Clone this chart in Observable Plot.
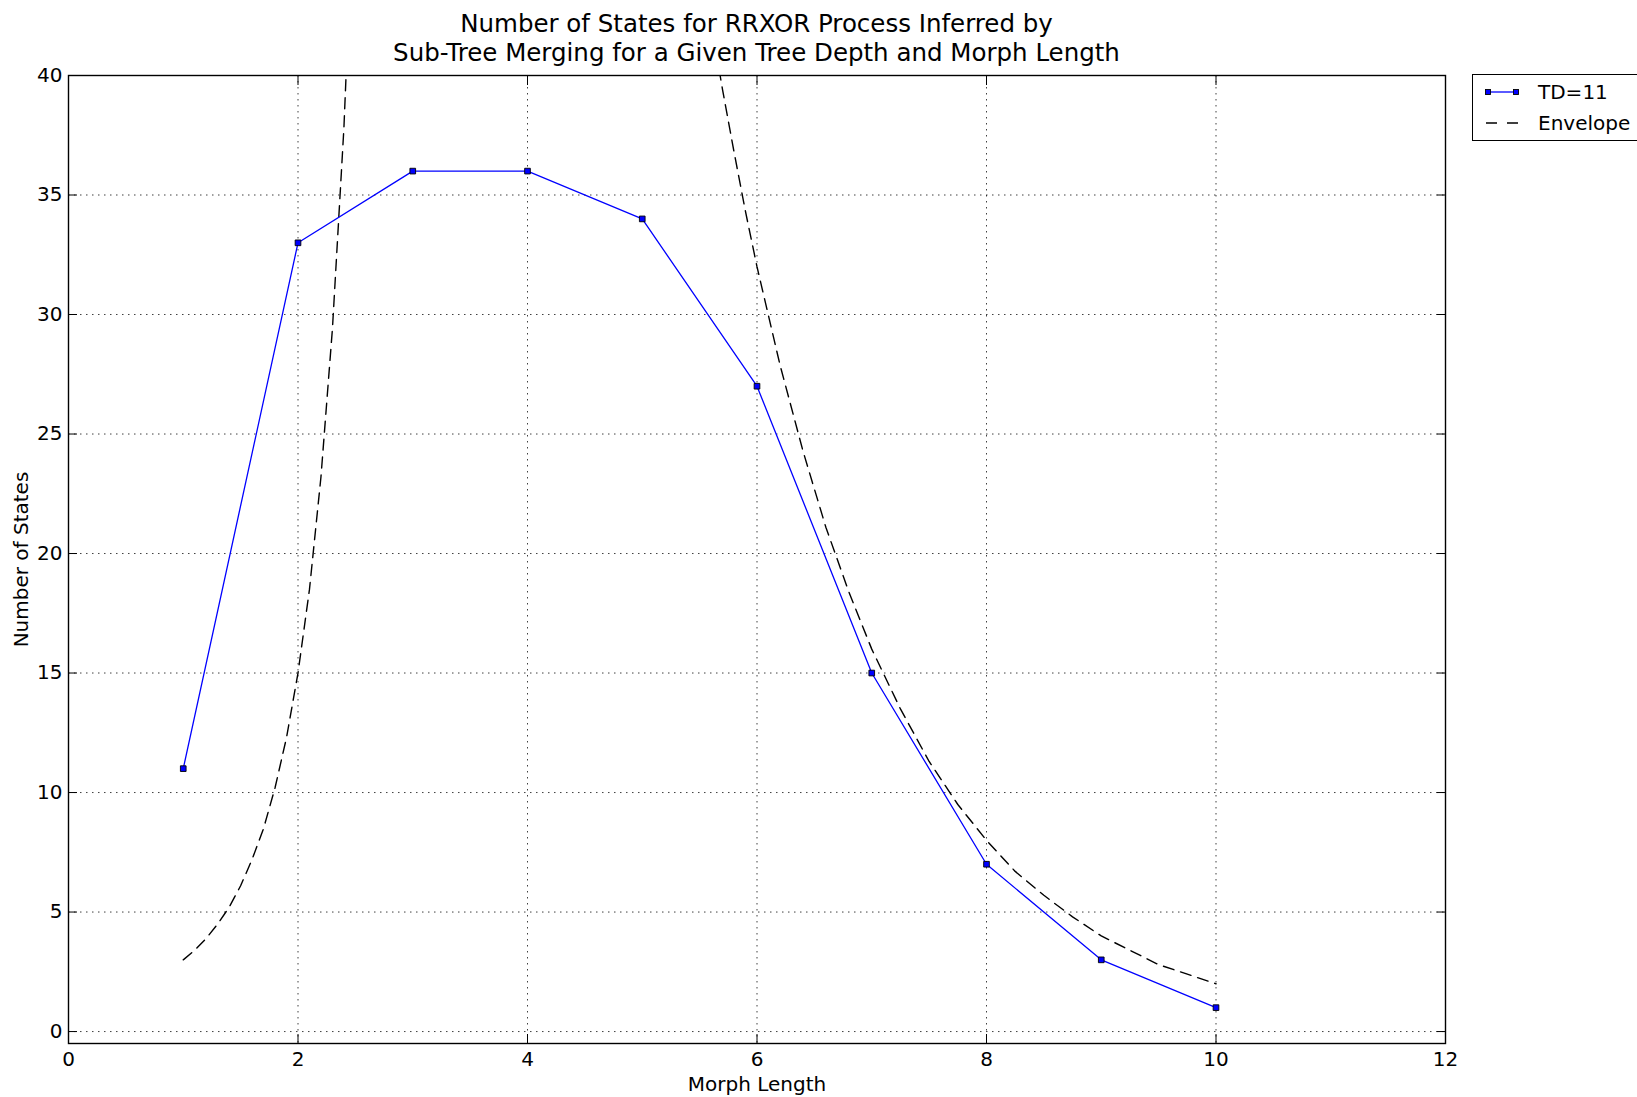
<!DOCTYPE html>
<html><head><meta charset="utf-8">
<script src="https://cdn.jsdelivr.net/npm/d3@7"></script>
<script src="https://cdn.jsdelivr.net/npm/@observablehq/plot@0.6"></script>
<style>
body{margin:0;background:#fff;font-family:"DejaVu Sans",sans-serif;color:#000;}
#wrap{position:relative;width:1637px;height:1097px;overflow:hidden;}
#title{position:absolute;left:68px;width:1377px;top:9px;text-align:center;font-size:24.5px;line-height:29px;}
#legend{position:absolute;left:1472px;top:74px;width:170px;height:67px;box-sizing:border-box;border:1.4px solid #000;background:#fff;font-size:20px;}
.row{position:absolute;left:0;height:24px;display:flex;align-items:center;}
.row svg{margin-left:12px;margin-right:19px;}
#chart{position:absolute;left:0;top:0;}
</style></head>
<body>
<div id="wrap">
  <div id="chart"></div>
  <div id="title">Number of States for RRXOR Process Inferred by<br>Sub-Tree Merging for a Given Tree Depth and Morph Length</div>
  <div id="legend">
    <div class="row" style="top:5px"><svg width="34" height="10"><line x1="3" y1="5" x2="31" y2="5" stroke="#0000ff" stroke-width="1.3"/><rect x="0.5" y="2.5" width="5" height="5" fill="#0000ff" stroke="#000" stroke-width="0.9"/><rect x="28.5" y="2.5" width="5" height="5" fill="#0000ff" stroke="#000" stroke-width="0.9"/></svg><span>TD=11</span></div>
    <div class="row" style="top:36px"><svg width="34" height="10"><line x1="1" y1="5" x2="33" y2="5" stroke="#000" stroke-width="1.4" stroke-dasharray="11,10"/></svg><span>Envelope</span></div>
  </div>
</div>
<script>
const morphLength = [1, 2, 3, 4, 5, 6, 7, 8, 9, 10];
const numStates = [11, 33, 36, 36, 34, 27, 15, 7, 3, 1];
const envelopeX = [1.0,1.1,1.2,1.3,1.4,1.5,1.6,1.7,1.8,1.9,2.0,2.1,2.2,2.3,2.4,2.5,5.5,5.6,5.7,5.8,5.9,6.0,6.2,6.4,6.6,6.8,7.0,7.25,7.5,7.75,8.0,8.25,8.5,8.75,9.0,9.25,9.5,9.75,10.0];
const envelopeY = [3.0,3.4,3.9,4.5,5.2,6.1,7.2,8.5,10.2,12.3,15.0,18.5,23.2,29.4,37.8,49.4,45.3,42.2,39.4,36.8,34.3,32.0,27.9,24.3,21.1,18.4,16.0,13.5,11.3,9.5,8.0,6.7,5.7,4.8,4.0,3.4,2.8,2.4,2.0];
const xTicks = [0, 2, 4, 6, 8, 10, 12];
const yTicks = [0, 5, 10, 15, 20, 25, 30, 35, 40];

const td = morphLength.map((m, i) => ({x: m, y: numStates[i]}));
const env = envelopeX.map((x, i) => ({x, y: envelopeY[i]}));

const grid = {stroke: "#000", strokeOpacity: 0.75, strokeWidth: 1, strokeDasharray: "1.5,4.5"};
const fmt = d => String(d);
const chart = Plot.plot({
  width: 1637, height: 1097,
  marginLeft: 68, marginRight: 192, marginTop: 75, marginBottom: 54,
  style: {fontFamily: "DejaVu Sans", fontSize: "20px", color: "#000", background: "transparent", overflow: "visible"},
  x: {domain: [0, 12], label: null},
  y: {domain: [-0.5, 40], label: null},
  marks: [
    Plot.gridX(xTicks, grid),
    Plot.gridY(yTicks, grid),
    Plot.line(env, {x: "x", y: "y", stroke: "#000", strokeWidth: 1.4, strokeDasharray: "11,7", clip: true}),
    Plot.line(td, {x: "x", y: "y", stroke: "#0000ff", strokeWidth: 1.3}),
    Plot.dot(td, {x: "x", y: "y", symbol: "square", r: 3.2, fill: "#0000ff", stroke: "#000", strokeWidth: 0.9}),
    Plot.frame({stroke: "#000", strokeWidth: 1.4}),
    Plot.axisX(xTicks, {anchor: "bottom", tickSize: -9, tickPadding: 17, tickFormat: fmt, label: null, fontSize: 20}),
    Plot.axisX(xTicks, {anchor: "top", tickSize: -9, tickFormat: () => "", label: null}),
    Plot.axisY(yTicks, {anchor: "left", tickSize: -9, tickPadding: 15, tickFormat: fmt, label: null, fontSize: 20}),
    Plot.axisY(yTicks, {anchor: "right", tickSize: -9, tickFormat: () => "", label: null}),
    Plot.text(["Morph Length"], {frameAnchor: "bottom", dy: 47, fontSize: 20, fill: "#000"}),
    Plot.text(["Number of States"], {frameAnchor: "left", textAnchor: "middle", dx: -47, rotate: -90, fontSize: 20, fill: "#000"})
  ]
});
document.getElementById("chart").appendChild(chart);
</script>
</body></html>
